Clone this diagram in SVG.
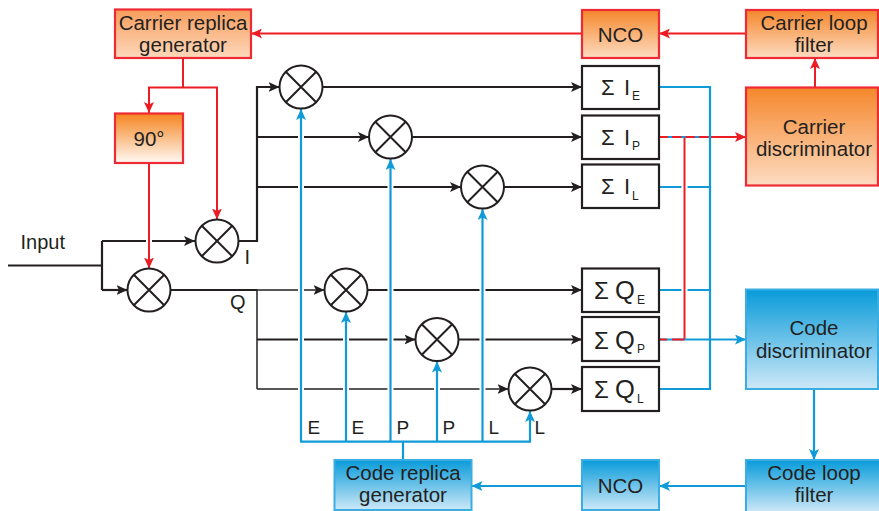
<svg xmlns="http://www.w3.org/2000/svg" width="879" height="511" viewBox="0 0 879 511">
  <defs>
    <linearGradient id="gOrangeSoft" x1="0" y1="0" x2="0" y2="1">
      <stop offset="0" stop-color="#f89d5c"/>
      <stop offset="1" stop-color="#fdd8bc"/>
    </linearGradient>
    <linearGradient id="gOrangeWhite" x1="0" y1="0" x2="0" y2="1">
      <stop offset="0" stop-color="#f5841e"/>
      <stop offset="1" stop-color="#fffaf6"/>
    </linearGradient>
    <linearGradient id="gOrange" x1="0" y1="0" x2="0" y2="1">
      <stop offset="0" stop-color="#f5872b"/>
      <stop offset="1" stop-color="#fddcc2"/>
    </linearGradient>
    <linearGradient id="gBlue" x1="0" y1="0" x2="0" y2="1">
      <stop offset="0" stop-color="#089bda"/>
      <stop offset="1" stop-color="#cde8f7"/>
    </linearGradient>
    <marker id="aBlack" viewBox="0 0 11 10" refX="11" refY="5" markerWidth="11" markerHeight="10" markerUnits="userSpaceOnUse" orient="auto">
      <path d="M0,0 L11,5 L0,10 L2.5,5 z" fill="#231f20"/>
    </marker>
    <marker id="aRed" viewBox="0 0 11 10" refX="11" refY="5" markerWidth="11" markerHeight="10" markerUnits="userSpaceOnUse" orient="auto">
      <path d="M0,0 L11,5 L0,10 L2.5,5 z" fill="#ec1c24"/>
    </marker>
    <marker id="aBlue" viewBox="0 0 11 10" refX="11" refY="5" markerWidth="11" markerHeight="10" markerUnits="userSpaceOnUse" orient="auto">
      <path d="M0,0 L11,5 L0,10 L2.5,5 z" fill="#109bd8"/>
    </marker>
    <g id="mixer">
      <circle r="21.5" fill="#ffffff" stroke="#231f20" stroke-width="2"/>
      <path d="M-15.2,-15.2 L15.2,15.2 M-15.2,15.2 L15.2,-15.2" stroke="#231f20" stroke-width="2"/>
    </g>
  </defs>
  <style>
    text { font-family: "Liberation Sans", Arial, sans-serif; fill: #231f20; }
    .lbl { font-size: 20.5px; text-anchor: middle; }
    .sm { font-size: 20px; }
    .sig { font-size: 19px; }
    .sumI { font-size: 22px; }
    .sumQ { font-size: 24px; }
    .qch { font-size: 25.5px; }
    .sub { font-size: 12px; }
    .boxR { stroke: #ee2a35; stroke-width: 2.2; }
    .boxB { stroke: #3aaee3; stroke-width: 2; }
    .sum { fill: #ffffff; stroke: #231f20; stroke-width: 2.2; }
    .k { fill: none; stroke: #231f20; stroke-width: 2.2; }
    .kt { fill: none; stroke: #231f20; stroke-width: 1.5; }
    .r { fill: none; stroke: #ec1c24; stroke-width: 2; }
    .b { fill: none; stroke: #109bd8; stroke-width: 2.2; }
    .halo { fill: none; stroke: #ffffff; stroke-width: 6; }
  </style>

  <rect width="879" height="511" fill="#ffffff"/>

  <!-- connectors -->
  <g id="connectors">
    <!-- input split -->
    <path class="k" d="M8,265.5 H102 M102,241 V290"/>
    <path class="k" d="M102,241 H195" marker-end="url(#aBlack)"/>
    <path class="k" d="M102,290 H127.5" marker-end="url(#aBlack)"/>
    <!-- I arm -->
    <path class="k" d="M238.5,241 H257 V87 H279.5" marker-end="url(#aBlack)"/>
    <path class="k" d="M257,137 H369" marker-end="url(#aBlack)"/>
    <path class="k" d="M257,187 H461" marker-end="url(#aBlack)"/>
    <!-- Q arm -->
    <path class="k" d="M170.5,290 H257"/>
    <path class="kt" d="M257,290 V389"/>
    <path class="kt" d="M257,290 H324.5" marker-end="url(#aBlack)"/>
    <path class="k" d="M257,339.5 H415.5" marker-end="url(#aBlack)"/>
    <path class="kt" d="M257,389 H508.5" marker-end="url(#aBlack)"/>
    <!-- correlator outputs to accumulators -->
    <path class="k" d="M322.5,87 H582" marker-end="url(#aBlack)"/>
    <path class="k" d="M412,137 H582" marker-end="url(#aBlack)"/>
    <path class="k" d="M504,187 H582" marker-end="url(#aBlack)"/>
    <path class="k" d="M367.5,290 H582" marker-end="url(#aBlack)"/>
    <path class="k" d="M458.5,339.5 H582" marker-end="url(#aBlack)"/>
    <path class="k" d="M551.5,389 H582" marker-end="url(#aBlack)"/>

    <!-- crossing gaps under the code replica lines -->
    <path class="halo" d="M301,435 V124 M346,435 V324 M390.5,435 V171 M437,435 V374 M482.5,435 V221"/>
    <path class="halo" d="M149,232 V250"/>

    <!-- code replica E/P/L lines -->
    <path class="b" d="M403,460 V441.7 M300,441.7 H531"/>
    <path class="b" d="M301,441.7 V109" marker-end="url(#aBlue)"/>
    <path class="b" d="M346,441.7 V312" marker-end="url(#aBlue)"/>
    <path class="b" d="M390.5,441.7 V159" marker-end="url(#aBlue)"/>
    <path class="b" d="M437,441.7 V361.5" marker-end="url(#aBlue)"/>
    <path class="b" d="M482.5,441.7 V209" marker-end="url(#aBlue)"/>
    <path class="b" d="M530,441.7 V411" marker-end="url(#aBlue)"/>

    <!-- code loop -->
    <path class="b" d="M814,389 V460" marker-end="url(#aBlue)"/>
    <path class="b" d="M746,486 H659" marker-end="url(#aBlue)"/>
    <path class="b" d="M582,486 H471.5" marker-end="url(#aBlue)"/>

    <!-- accumulator outputs to the code bus -->
    <path class="b" d="M659,87 H710 M659,187 H710 M659,290 H710 M659,389 H710"/>

    <!-- carrier loop -->
    <path class="r" d="M746,33.5 H659" marker-end="url(#aRed)"/>
    <path class="r" d="M582,33.5 H251" marker-end="url(#aRed)"/>
    <path class="r" d="M815,87 V58" marker-end="url(#aRed)"/>
    <path class="r" d="M183,58 V87.5 M148,87.5 H218"/>
    <path class="r" d="M149,87.5 V113" marker-end="url(#aRed)"/>
    <path class="r" d="M217,87.5 V219.5" marker-end="url(#aRed)"/>
    <path class="r" d="M149,163 V268.5" marker-end="url(#aRed)"/>
    <path class="r" d="M659,137 H746" marker-end="url(#aRed)"/>
    <path class="halo" d="M684.5,150 V330"/>
    <path class="r" d="M684.5,137 V339.5"/>

    <!-- code bus and prompt lines -->
    <path class="b" d="M710,86 V390"/>
    <path class="b" d="M668,137 H710" stroke-dasharray="4 9.5"/>
    <path class="b" d="M659,339.5 H746" marker-end="url(#aBlue)"/>
    <path class="r" d="M659,339.5 H667 M672,339.5 H684.5"/>
  </g>

  <!-- carrier blocks -->
  <g id="carrier-replica-generator">
    <rect class="boxR" x="115" y="9.5" width="136" height="48.5" fill="url(#gOrangeSoft)"/>
    <text class="lbl" x="183" y="29.5">Carrier replica</text>
    <text class="lbl" x="183" y="51.5">generator</text>
  </g>
  <g id="phase-shift-90">
    <rect class="boxR" x="115" y="113.5" width="68" height="49.5" fill="url(#gOrangeWhite)"/>
    <text class="lbl" x="149" y="146">90°</text>
  </g>
  <g id="carrier-nco">
    <rect class="boxR" x="582" y="10" width="77" height="48" fill="url(#gOrange)"/>
    <text class="lbl" x="620.5" y="41.5">NCO</text>
  </g>
  <g id="carrier-loop-filter">
    <rect class="boxR" x="746" y="10" width="132" height="48" fill="url(#gOrange)"/>
    <text class="lbl" x="814" y="30">Carrier loop</text>
    <text class="lbl" x="814" y="51.5">filter</text>
  </g>
  <g id="carrier-discriminator">
    <rect class="boxR" x="746" y="87.5" width="132" height="98" fill="url(#gOrange)"/>
    <text class="lbl" x="814" y="133.5">Carrier</text>
    <text class="lbl" x="814" y="156">discriminator</text>
  </g>

  <!-- code blocks -->
  <g id="code-discriminator">
    <rect class="boxB" x="746" y="289.5" width="132" height="99.5" fill="url(#gBlue)"/>
    <text class="lbl" x="814" y="335">Code</text>
    <text class="lbl" x="814" y="358">discriminator</text>
  </g>
  <g id="code-loop-filter">
    <rect class="boxB" x="746" y="460" width="134" height="52" fill="url(#gBlue)"/>
    <text class="lbl" x="814" y="480">Code loop</text>
    <text class="lbl" x="814" y="501.5">filter</text>
  </g>
  <g id="code-nco">
    <rect class="boxB" x="582" y="460" width="77" height="50" fill="url(#gBlue)"/>
    <text class="lbl" x="620.5" y="493">NCO</text>
  </g>
  <g id="code-replica-generator">
    <rect class="boxB" x="334.5" y="460" width="137" height="50" fill="url(#gBlue)"/>
    <text class="lbl" x="403" y="480">Code replica</text>
    <text class="lbl" x="403" y="501.5">generator</text>
  </g>

  <!-- mixers -->
  <g id="mixer-i"><use href="#mixer" x="217" y="241"/></g>
  <g id="mixer-q"><use href="#mixer" x="149" y="290"/></g>
  <g id="mixer-ie"><use href="#mixer" x="301" y="87"/></g>
  <g id="mixer-ip"><use href="#mixer" x="390.5" y="137"/></g>
  <g id="mixer-il"><use href="#mixer" x="482.5" y="187"/></g>
  <g id="mixer-qe"><use href="#mixer" x="346" y="290"/></g>
  <g id="mixer-qp"><use href="#mixer" x="437" y="339.5"/></g>
  <g id="mixer-ql"><use href="#mixer" x="530" y="389"/></g>

  <!-- accumulators -->
  <g id="sum-ie">
    <rect class="sum" x="582" y="66" width="77" height="43"/>
    <text class="sumI" y="95"><tspan x="601">Σ</tspan><tspan x="624">I</tspan><tspan class="sub" x="632" dy="5">E</tspan></text>
  </g>
  <g id="sum-ip">
    <rect class="sum" x="582" y="115.5" width="77" height="43.5"/>
    <text class="sumI" y="144.5"><tspan x="601">Σ</tspan><tspan x="624">I</tspan><tspan class="sub" x="632" dy="5.5">P</tspan></text>
  </g>
  <g id="sum-il">
    <rect class="sum" x="582" y="164.5" width="77" height="43.5"/>
    <text class="sumI" y="194"><tspan x="601">Σ</tspan><tspan x="624">I</tspan><tspan class="sub" x="632" dy="5.5">L</tspan></text>
  </g>
  <g id="sum-qe">
    <rect class="sum" x="582" y="268.5" width="77" height="43.5"/>
    <text class="sumQ" y="299"><tspan x="594">Σ</tspan><tspan class="qch" x="615">Q</tspan><tspan class="sub" x="637" dy="4.5">E</tspan></text>
  </g>
  <g id="sum-qp">
    <rect class="sum" x="582" y="317" width="77" height="44"/>
    <text class="sumQ" y="348.5"><tspan x="594">Σ</tspan><tspan class="qch" x="615">Q</tspan><tspan class="sub" x="637" dy="4.5">P</tspan></text>
  </g>
  <g id="sum-ql">
    <rect class="sum" x="582" y="367" width="77" height="44"/>
    <text class="sumQ" y="398"><tspan x="594">Σ</tspan><tspan class="qch" x="615">Q</tspan><tspan class="sub" x="637" dy="4.5">L</tspan></text>
  </g>

  <!-- signal labels -->
  <g id="labels">
    <text class="sm" x="20.5" y="248.5">Input</text>
    <text class="sm" x="244.5" y="263.5">I</text>
    <text class="sm" x="230" y="308.5">Q</text>
    <text class="sig" x="307.5" y="433.5">E</text>
    <text class="sig" x="351.5" y="433.5">E</text>
    <text class="sig" x="396.5" y="433.5">P</text>
    <text class="sig" x="442.5" y="433.5">P</text>
    <text class="sig" x="488.5" y="433.5">L</text>
    <text class="sig" x="534.5" y="433.5">L</text>
  </g>
</svg>
